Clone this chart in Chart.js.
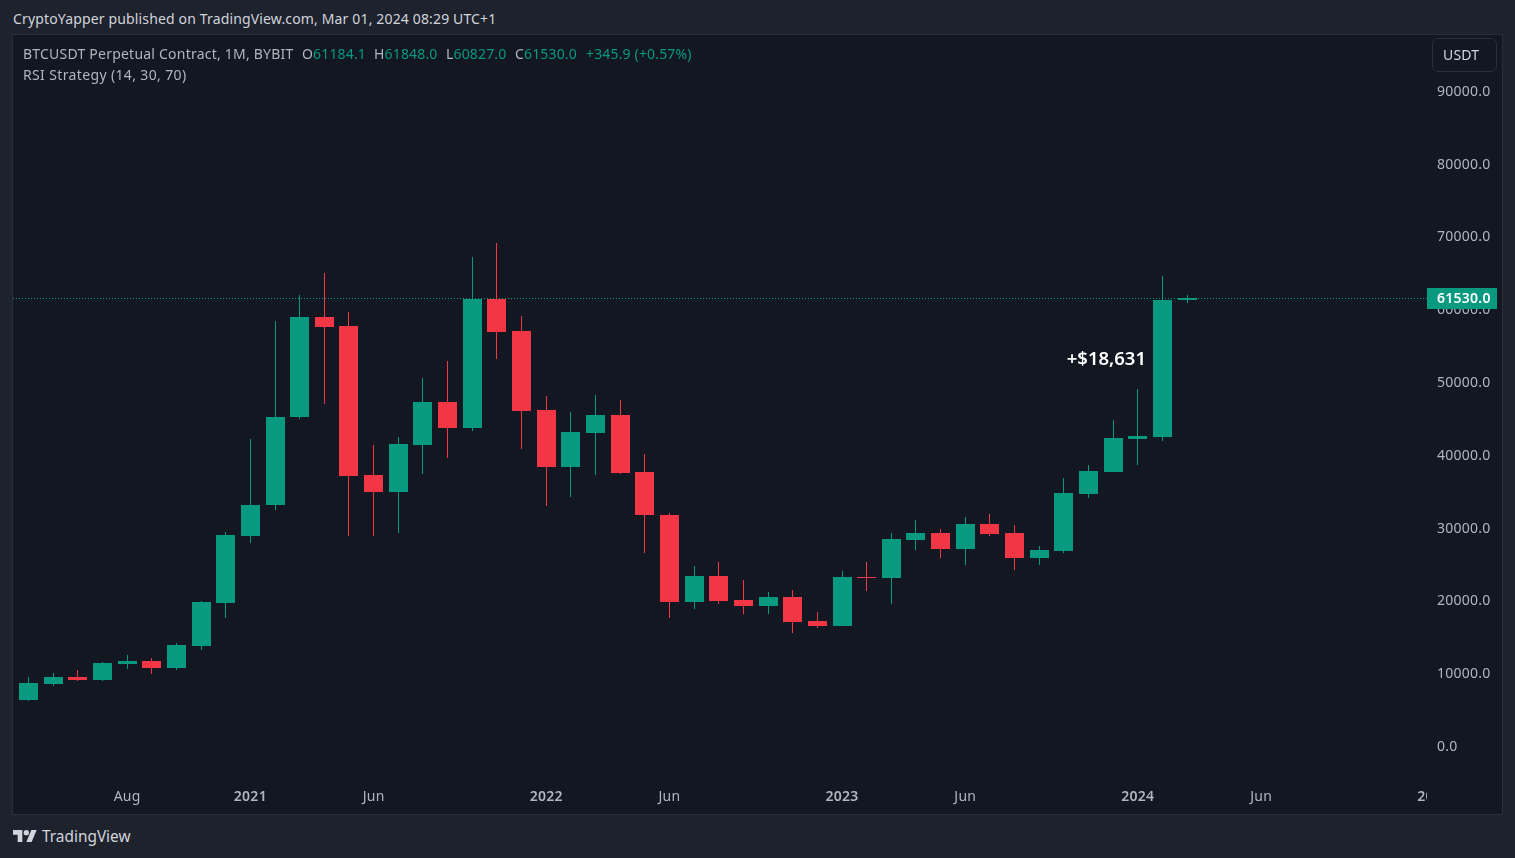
<!DOCTYPE html>
<html>
<head>
<meta charset="utf-8">
<title>BTCUSDT</title>
<script src="https://cdn.jsdelivr.net/npm/chart.js@4"></script>
<style>
    html, body { margin: 0; padding: 0; width: 1515px; height: 858px; overflow: hidden; background: #1e222d; }
    body { position: relative; font-family: "Noto Sans", sans-serif; font-size: 14px; color: #b2b5be; letter-spacing: 0.16px; }
    #panel { position: absolute; left: 12px; top: 34px; width: 1489px; height: 779px; background: #131722; border: 1px solid #2a2e39; }
    #wrap { position: absolute; left: 13px; top: 35px; width: 1488px; height: 778px; }
    .txt { position: absolute; white-space: nowrap; line-height: 20px; }
    .up { color: #089981; }
    #pub { left: 13px; top: 9px; color: #d1d4dc; letter-spacing: 0.15px; }
    #usdt { position: absolute; left: 1432px; top: 38px; width: 63px; height: 32px; border: 1px solid #2a2e39; border-radius: 6px; line-height: 32px; color: #d1d4dc; text-indent: 10px; }
    #logo { position: absolute; left: 13px; top: 830px; }
    #brand { left: 42px; top: 827px; font-size: 15.4px; letter-spacing: 0; color: #d1d4dc; }
</style>
</head>
<body>
<div id="panel"></div>
<div id="wrap"><canvas id="myChart"></canvas></div>
<div class="txt" id="pub">CryptoYapper published on TradingView.com, Mar 01, 2024 08:29 UTC+1</div>
<div class="txt" style="left:23px;top:44px;letter-spacing:0.22px">BTCUSDT Perpetual Contract, 1M, BYBIT</div>
<div class="txt" style="left:302px;top:44px">O<span class="up">61184.1</span></div>
<div class="txt" style="left:374px;top:44px">H<span class="up">61848.0</span></div>
<div class="txt" style="left:446px;top:44px">L<span class="up">60827.0</span></div>
<div class="txt" style="left:515px;top:44px">C<span class="up">61530.0</span></div>
<div class="txt up" style="left:586px;top:44px">+345.9 (+0.57%)</div>
<div class="txt" style="left:23px;top:65px;letter-spacing:0.36px">RSI Strategy (14, 30, 70)</div>
<div id="usdt">USDT</div>
<svg id="logo" width="24" height="12" viewBox="0 4 36 18" fill="#d1d4dc"><path d="M14 22H7V11H0V4h14v18zM28 22h-8l7.5-18h8L28 22z"/><circle cx="20" cy="8" r="4"/></svg>
<div class="txt" id="brand">TradingView</div>

<script>
// monthly candles, Apr 2020 - Mar 2024
const months = ['2020-04','2020-05','2020-06','2020-07','2020-08','2020-09','2020-10','2020-11','2020-12',
    '2021-01','2021-02','2021-03','2021-04','2021-05','2021-06','2021-07','2021-08','2021-09','2021-10','2021-11','2021-12',
    '2022-01','2022-02','2022-03','2022-04','2022-05','2022-06','2022-07','2022-08','2022-09','2022-10','2022-11','2022-12',
    '2023-01','2023-02','2023-03','2023-04','2023-05','2023-06','2023-07','2023-08','2023-09','2023-10','2023-11','2023-12',
    '2024-01','2024-02','2024-03'];
const opens = [6250,8448,9409,8997,11195,11607,10645,13667,19574,
    28777,33035,45123,58859,57623,37156,34821,41277,47183,43612,61331,56936,
    46084,38255,42925,45398,37568,31661,19711,23283,19986,19161,20398,17101,
    16415,23145,23008,28227,29189,26991,30425,29189,25755,26716,34546,37568,
    42101,42376,61184.1];
const highs = [9409,9959,10371,11470,12431,12019,14079,19849,29326,
    42101,58309,61881,64903,59546,41277,42376,50480,52815,67100,69023,58996,
    48007,45810,48145,47458,40040,31936,24656,25205,22733,21085,21360,18338,
    23970,25205,29189,30975,29738,31387,31799,30288,27403,36744,38530,44711,
    48969,64491,61848];
const lows = [6113,8173,8860,8860,10508,9821,10371,13118,17513,
    27815,32348,44900,46908,28777,28777,29189,37293,39491,43200,53090,40727,
    32898,34134,37156,37300,26442,17513,18750,19436,18063,18063,15453,16140,
    16415,21222,19436,26854,25755,24793,28777,24106,24793,26442,33997,37500,
    38530,41826,60827];
const closes = [8585,9409,8997,11332,11607,10645,13805,19711,28914,
    33035,45123,58859,57485,37019,34821,41414,47183,43612,61331,56798,45947,
    38255,43062,45398,37431,31661,19711,23283,19849,19161,20398,16964,16415,
    23145,23008,28365,29189,26991,30425,29052,25755,26854,34683,37706,42238,
    42513,61194,61530];

const lastPrice = 61530;
const gainLabel = '+$18,631';
const gainAt = { x: 45.33, y: 52950 };

const yTickValues = [0,10000,20000,30000,40000,50000,60000,70000,80000,90000];
const xTickValues = [4,9,14,21,26,33,38,45,50];
const xTickLabels = ['Aug','2021','Jun','2022','Jun','2023','Jun','2024','Jun'];
const clippedTick = { value: 57, label: '2025' };

const upColor = '#089981';
const downColor = '#F23645';
const textColor = '#b2b5be';
const fontName = '"Noto Sans", sans-serif';

const candleColors = closes.map((c, i) => c >= opens[i] ? upColor : downColor);

// last price line, price tag, annotation and the year cut off by the price axis
const overlay = {
    id: 'overlay',
    afterDatasetsUpdate(chart) {
        // keep candles on whole pixels so wicks stay sharp
        chart.getSortedVisibleDatasetMetas().forEach(meta => {
            meta.data.forEach(bar => {
                bar.x = Math.floor(bar.x) + 0.5;
                bar.y = Math.round(bar.y);
                bar.base = Math.round(bar.base);
            });
        });
    },
    beforeDraw(chart) {
        chart.ctx.letterSpacing = '0.25px';
    },
    beforeDatasetsDraw(chart) {
        const { ctx, chartArea, scales } = chart;
        const y = Math.round(scales.y.getPixelForValue(lastPrice)) + 0.5;
        ctx.save();
        ctx.strokeStyle = upColor;
        ctx.lineWidth = 1;
        ctx.setLineDash([1, 2]);
        ctx.beginPath();
        ctx.moveTo(chartArea.left, y);
        ctx.lineTo(chartArea.right, y);
        ctx.stroke();
        ctx.restore();
    },
    afterDraw(chart) {
        const { ctx, chartArea, scales } = chart;
        const y = scales.y.getPixelForValue(lastPrice);
        ctx.save();
        ctx.fillStyle = upColor;
        ctx.fillRect(chartArea.right, Math.round(y) - 10, 70, 21);
        ctx.fillStyle = '#ffffff';
        ctx.font = '600 14px ' + fontName;
        ctx.textAlign = 'left';
        ctx.textBaseline = 'middle';
        ctx.fillText(lastPrice.toFixed(1), chartArea.right + 10, y + 1.5);

        ctx.letterSpacing = '0px';
        ctx.font = '600 18.5px ' + fontName;
        ctx.textAlign = 'right';
        ctx.fillText(gainLabel, scales.x.getPixelForValue(gainAt.x), scales.y.getPixelForValue(gainAt.y));

        ctx.letterSpacing = '0.25px';
        ctx.beginPath();
        ctx.rect(chartArea.left, chartArea.bottom, chartArea.width, 28);
        ctx.clip();
        ctx.fillStyle = textColor;
        ctx.font = '600 14px ' + fontName;
        ctx.textAlign = 'center';
        ctx.fillText(clippedTick.label, scales.x.getPixelForValue(clippedTick.value), chartArea.bottom + 12);
        ctx.restore();
    }
};

new Chart(document.getElementById('myChart').getContext('2d'), {
    type: 'bar',
    data: {
        labels: months,
        datasets: [{
            label: 'body',
            data: months.map((m, i) => ({ x: i, y: [opens[i], closes[i]] })),
            backgroundColor: candleColors,
            barThickness: 19,
            grouped: false,
            borderWidth: 0,
            inflateAmount: 0
        }, {
            label: 'wick',
            data: months.map((m, i) => ({ x: i, y: [lows[i], highs[i]] })),
            backgroundColor: candleColors,
            barThickness: 1,
            grouped: false,
            borderWidth: 0,
            inflateAmount: 0
        }]
    },
    options: {
        responsive: true,
        maintainAspectRatio: false,
        animation: false,
        layout: { padding: 0 },
        plugins: { legend: { display: false }, tooltip: { enabled: false } },
        scales: {
            x: {
                type: 'linear',
                min: -0.6288,
                max: 56.73,
                offset: false,
                grid: { display: false, drawTicks: false },
                border: { display: false },
                afterBuildTicks: (scale) => { scale.ticks = xTickValues.map(v => ({ value: v })); },
                afterFit: (scale) => { scale.height = 28; scale.paddingLeft = 0; scale.paddingRight = 0; },
                ticks: {
                    autoSkip: false,
                    maxRotation: 0,
                    padding: 4,
                    color: textColor,
                    font: (ctx) => ({
                        family: fontName,
                        size: 14,
                        weight: /^\d/.test(xTickLabels[xTickValues.indexOf(ctx.tick ? ctx.tick.value : -1)] || '') ? '600' : '400'
                    }),
                    callback: (value) => xTickLabels[xTickValues.indexOf(value)]
                }
            },
            y: {
                position: 'right',
                min: -5426,
                max: 97594,
                grid: { display: false, drawTicks: false },
                border: { display: false },
                afterBuildTicks: (scale) => { scale.ticks = yTickValues.map(v => ({ value: v })); },
                afterFit: (scale) => { scale.width = 74; scale.paddingTop = 0; scale.paddingBottom = 0; },
                ticks: {
                    padding: 10,
                    labelOffset: 1.5,
                    color: textColor,
                    font: { family: fontName, size: 14 },
                    callback: (value) => value.toFixed(1)
                }
            }
        }
    },
    plugins: [overlay]
});
</script>
</body>
</html>
